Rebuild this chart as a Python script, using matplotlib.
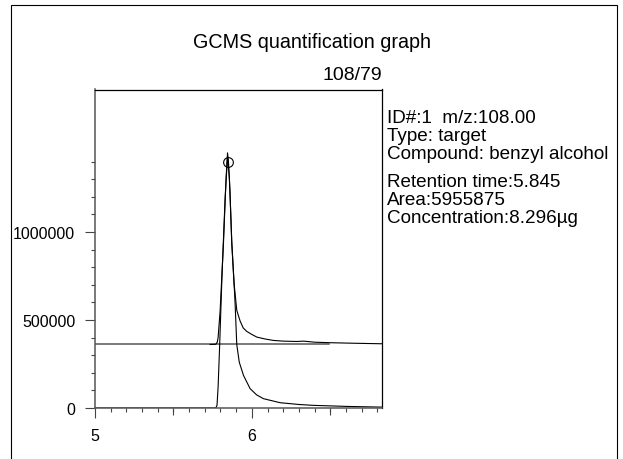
import numpy as np
import matplotlib
matplotlib.use("Agg")
import matplotlib.pyplot as plt
from matplotlib.ticker import FixedLocator, NullFormatter

plt.rcParams['font.family'] = ['Liberation Sans', 'DejaVu Sans']

# ion 108 trace (baseline at 0)
time_108 = [5.00, 5.770, 5.778, 5.785, 5.795, 5.810, 5.830, 5.845, 5.857, 5.872,
            5.893, 5.904, 5.920, 5.947, 5.989, 6.030, 6.074, 6.181, 6.300, 6.393,
            6.606, 6.830]
inten_108 = [0, 0, 15e3, 120e3, 360e3, 760e3, 1.20e6, 1.43e6, 1.31e6, 0.95e6,
             600e3, 360e3, 260e3, 185e3, 110e3, 75e3, 53e3, 30e3, 20e3, 15e3,
             9e3, 5e3]

# ion 79 trace, drawn with an offset
time_79 = [5.734, 5.770, 5.780, 5.785, 5.798, 5.819, 5.836, 5.845, 5.851, 5.861,
           5.872, 5.887, 5.904, 5.925, 5.945, 5.968, 6.000, 6.032, 6.085, 6.138,
           6.200, 6.287, 6.330, 6.400, 6.500, 6.650, 6.830]
inten_79 = [361e3, 362e3, 375e3, 400e3, 555e3, 933e3, 1.31e6, 1.45e6, 1.40e6, 1.22e6,
            933e3, 706e3, 555e3, 495e3, 455e3, 435e3, 418e3, 403e3, 392e3, 384e3,
            380e3, 378e3, 380e3, 374e3, 371e3, 368e3, 365e3]

offset_level = 361e3
offset_range = [5.0, 6.49]
peak_time = 5.845
peak_height = 1.40e6

info_lines = ["ID#:1  m/z:108.00", "Type: target", "Compound: benzyl alcohol"]
result_lines = ["Retention time:5.845", "Area:5955875", "Concentration:8.296\u00b5g"]

W, H = 623, 460
fig = plt.figure(figsize=(W / 100, H / 100), dpi=100)
ax = fig.add_axes([95 / W, 1 - 409 / H, (382 - 95) / W, (409 - 90.5) / H])

ax.plot(offset_range, [offset_level, offset_level], color='#555555', lw=1.1)
ax.plot(time_79, inten_79, color='black', lw=0.8)
ax.plot(time_108, inten_108, color='black', lw=0.8)
ax.plot([peak_time], [peak_height], marker='o', ms=7, mfc='none', mec='black', mew=0.8)

ax.set_xlim(5.0, 6.83)
ax.set_ylim(0, 1.81e6)

ax.set_xticks([5, 6])
ax.set_xticklabels(['5', '6'])
ax.xaxis.set_minor_locator(FixedLocator(np.arange(5.1, 6.85, 0.1)))
ax.set_yticks([0, 500000, 1000000])
ax.set_yticklabels(['0', '500000', '1000000'])
ax.yaxis.set_minor_locator(FixedLocator(np.arange(1e5, 1.45e6, 1e5)))
ax.tick_params(which='major', length=7.2, width=0.8, pad=7, labelsize=11.5, color='#444444')
ax.tick_params(which='minor', length=3, width=0.8, color='#444444')

# medium ticks at the half units
sec = ax.secondary_xaxis('bottom')
sec.set_xticks([5.5, 6.5])
sec.xaxis.set_major_formatter(NullFormatter())
sec.tick_params(length=5, width=0.8, color='#444444')
sec.spines['bottom'].set_visible(False)

for side in ['left', 'bottom']:
    ax.spines[side].set_color('#555555')
    ax.spines[side].set_linewidth(1.1)
for side in ['top', 'right']:
    ax.spines[side].set_color('black')
    ax.spines[side].set_linewidth(0.9)

fig.text(312 / W, 1 - 42 / H, "GCMS quantification graph", ha='center', va='center', size=14.2)
fig.text(382 / W, 1 - 75 / H, "108/79", ha='right', va='center', size=14)

y = 119
for line in info_lines:
    fig.text(387 / W, 1 - y / H, line, ha='left', va='center', size=13.6)
    y += 17.8
y += 10
for line in result_lines:
    fig.text(387 / W, 1 - y / H, line, ha='left', va='center', size=13.6)
    y += 17.8

# outer frame
fig.add_artist(plt.Rectangle((10.5 / W, -0.05), (617 - 10.5) / W, 1.05 - 5.5 / H,
                             transform=fig.transFigure, fill=False, ec='black', lw=0.8))

fig.savefig("out.png", dpi=100)
